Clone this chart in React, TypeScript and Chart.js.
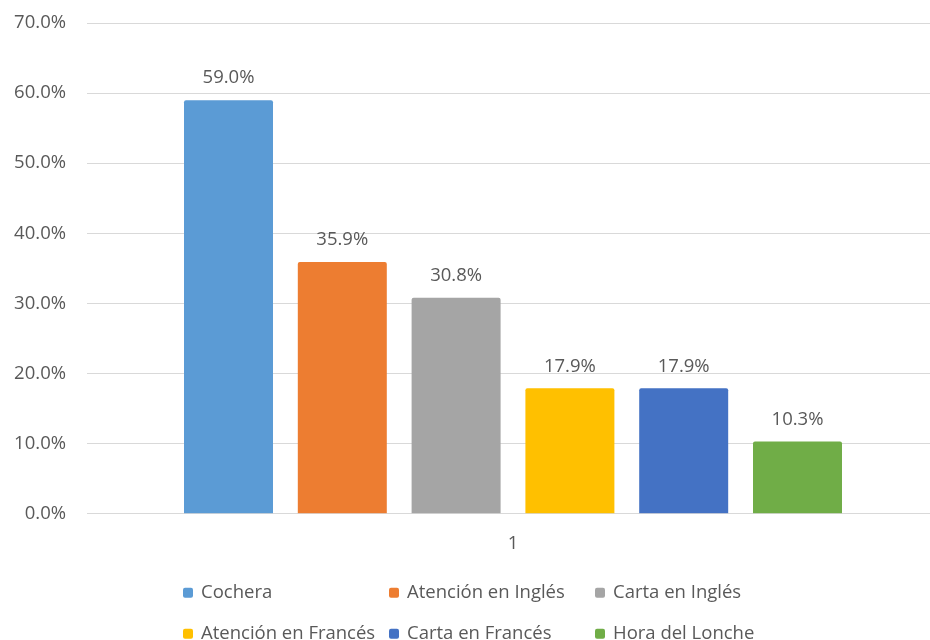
import { useEffect, useRef } from "react";
import { Chart, registerables } from "chart.js";

Chart.register(...registerables);

const categories: string[] = ["1"];
const seriesNames: string[] = [
  "Cochera",
  "Atención en Inglés",
  "Carta en Inglés",
  "Atención en Francés",
  "Carta en Francés",
  "Hora del Lonche",
];
const seriesValues: number[] = [0.59, 0.359, 0.308, 0.179, 0.179, 0.103];
const seriesColors: string[] = ["#5B9BD5", "#ED7D31", "#A5A5A5", "#FFC000", "#4472C4", "#70AD47"];
const yMin = 0;
const yMax = 0.7;
const yStep = 0.1;

const FONT_FAMILY = '"Open Sans", "DejaVu Sans", sans-serif';
const TEXT_COLOR = "#595959";
const GRID_COLOR = "#d9d9d9";

const pct = (v: number) => (v * 100).toFixed(1) + "%";

const dataLabelPlugin = {
  id: "dataLabels",
  afterDatasetsDraw(chart: any) {
    const { ctx } = chart;
    ctx.save();
    ctx.font = `18.5px ${FONT_FAMILY}`;
    ctx.fillStyle = TEXT_COLOR;
    ctx.textAlign = "center";
    ctx.textBaseline = "middle";
    chart.data.datasets.forEach((ds: any, i: number) => {
      const meta = chart.getDatasetMeta(i);
      meta.data.forEach((bar: any, j: number) => {
        ctx.fillText(pct(ds.data[j]), bar.x, bar.y - 22);
      });
    });
    ctx.restore();
  },
};

const gridLegendPlugin = {
  id: "gridLegend",
  afterDraw(chart: any) {
    const { ctx, chartArea } = chart;
    const cols = 3;
    const colWidth = 206;
    const startX = chartArea.left + 96;
    const firstRowY = chartArea.bottom + 79;
    const rowGap = 41;
    ctx.save();
    ctx.font = `18.5px ${FONT_FAMILY}`;
    ctx.textBaseline = "middle";
    ctx.textAlign = "left";
    chart.data.datasets.forEach((ds: any, i: number) => {
      const col = i % cols;
      const row = Math.floor(i / cols);
      const x = startX + col * colWidth;
      const y = firstRowY + row * rowGap;
      ctx.fillStyle = ds.backgroundColor;
      ctx.beginPath();
      if (ctx.roundRect) {
        ctx.roundRect(x, y - 5, 10, 10, 2);
      } else {
        ctx.rect(x, y - 5, 10, 10);
      }
      ctx.fill();
      ctx.fillStyle = TEXT_COLOR;
      ctx.fillText(ds.label, x + 18, y);
    });
    ctx.restore();
  },
};

export default function App() {
  const canvasRef = useRef<HTMLCanvasElement | null>(null);

  useEffect(() => {
    document.body.style.overflow = "hidden";
    const canvas = canvasRef.current;
    if (!canvas) return;
    const chart = new Chart(canvas, {
      type: "bar",
      data: {
        labels: categories,
        datasets: seriesNames.map((name, i) => ({
          label: name,
          data: [seriesValues[i]],
          backgroundColor: seriesColors[i],
          borderWidth: 0,
          borderRadius: 2,
          categoryPercentage: 0.8014,
          barPercentage: 0.782,
        })),
      },
      options: {
        animation: false,
        responsive: false,
        devicePixelRatio: 1,
        layout: {
          padding: { top: 23, right: 3, bottom: 76, left: 0 },
        },
        plugins: {
          legend: { display: false },
          tooltip: { enabled: false },
        },
        scales: {
          x: {
            grid: { display: false, drawTicks: false },
            border: { display: true, color: GRID_COLOR, width: 1 },
            ticks: {
              color: TEXT_COLOR,
              font: { family: FONT_FAMILY, size: 18.5 },
              padding: 19,
            },
          },
          y: {
            min: yMin,
            max: yMax,
            grid: { color: GRID_COLOR, lineWidth: 1, drawTicks: false },
            border: { display: false },
            ticks: {
              stepSize: yStep,
              color: TEXT_COLOR,
              font: { family: FONT_FAMILY, size: 18.5 },
              padding: 21,
              callback: (v: any) => pct(Number(v)),
            },
            afterFit: (scale: any) => {
              scale.width = 87;
              scale.paddingTop = 0;
              scale.paddingBottom = 0;
            },
          },
        },
      },
      plugins: [dataLabelPlugin, gridLegendPlugin],
    });
    return () => chart.destroy();
  }, []);

  return (
    <div
      style={{
        position: "fixed",
        left: 0,
        top: 0,
        width: 942,
        height: 650,
        background: "#ffffff",
      }}
    >
      <canvas ref={canvasRef} width={942} height={650} style={{ display: "block" }} />
    </div>
  );
}
